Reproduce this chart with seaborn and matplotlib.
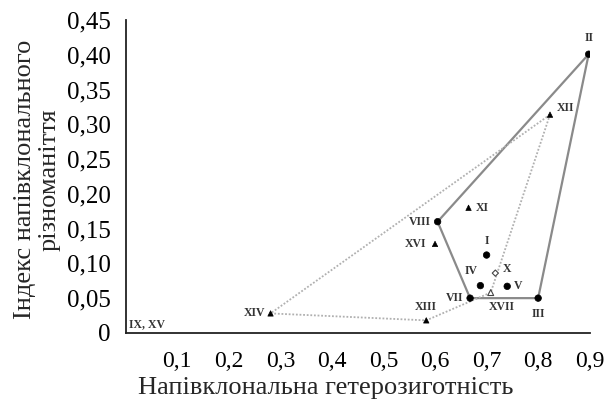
import matplotlib
matplotlib.use("Agg")
import matplotlib.pyplot as plt
import seaborn as sns
import pandas as pd

labels = ["I", "II", "III", "IV", "V", "VII", "VIII", "X",
          "XI", "XII", "XIII", "XIV", "XVI", "XVII"]
het = [0.700, 0.898, 0.800, 0.688, 0.740, 0.668, 0.605, 0.717,
       0.665, 0.823, 0.583, 0.281, 0.600, 0.708]
div = [0.112, 0.401, 0.050, 0.068, 0.067, 0.050, 0.160, 0.086,
       0.180, 0.314, 0.018, 0.028, 0.128, 0.058]
group = ["c", "c", "c", "c", "c", "c", "c", "d",
         "t", "t", "t", "t", "t", "ot"]
hull_solid = ["II", "III", "VII", "VIII", "II"]
hull_dotted = ["XII", "XIV", "XIII", "XVII", "XII"]
origin_label = "IX, XV"

xticks = [0.1, 0.2, 0.3, 0.4, 0.5, 0.6, 0.7, 0.8, 0.9]
xticklabels = ["0,1", "0,2", "0,3", "0,4", "0,5", "0,6", "0,7", "0,8", "0,9"]
yticks = [0, 0.05, 0.10, 0.15, 0.20, 0.25, 0.30, 0.35, 0.40, 0.45]
yticklabels = ["0", "0,05", "0,10", "0,15", "0,20", "0,25", "0,30", "0,35", "0,40", "0,45"]

df = pd.DataFrame({"label": labels, "x": het, "y": div, "g": group})

sns.set_style("white")
plt.rcParams["font.family"] = ["Liberation Serif", "DejaVu Serif"]

fig = plt.figure(figsize=(6.13, 4.03), dpi=100)
ax = fig.add_axes([0.205, 0.174, 0.757, 0.776])

pos = {r.label: (r.x, r.y) for r in df.itertuples()}
sx = [pos[k][0] for k in hull_solid]
sy = [pos[k][1] for k in hull_solid]
ax.plot(sx, sy, color="#8a8a8a", lw=1.6, zorder=1)
dx = [pos[k][0] for k in hull_dotted]
dy = [pos[k][1] for k in hull_dotted]
ax.plot(dx, dy, color="#b0b0b0", lw=1.3, ls=(0, (1, 1)), zorder=1)

filled = df[df.g.isin(["c", "t"])]
sns.scatterplot(data=filled, x="x", y="y", style="g",
                markers={"c": "o", "t": "^"}, color="black",
                size="g", sizes={"c": 22, "t": 15},
                edgecolor="black", linewidth=0.5, legend=False, ax=ax, zorder=3)
opened = df[df.g.isin(["d", "ot"])]
sns.scatterplot(data=opened, x="x", y="y", style="g",
                markers={"d": "D", "ot": "^"}, size="g",
                sizes={"d": 10, "ot": 18},
                facecolor="white", edgecolor="#444444", linewidth=0.8,
                legend=False, ax=ax, zorder=3)

offsets = {
    "I": (0, 6, "center", "bottom"),
    "II": (0, 7, "center", "bottom"),
    "III": (0, -7, "center", "top"),
    "IV": (-2, 6, "right", "bottom"),
    "V": (5, 0, "left", "center"),
    "VII": (-5, 0, "right", "center"),
    "VIII": (-5, 0, "right", "center"),
    "X": (5, 3, "left", "center"),
    "XI": (5, 0, "left", "center"),
    "XII": (5, 5, "left", "center"),
    "XIII": (0, 5, "center", "bottom"),
    "XIV": (-4, 0, "right", "center"),
    "XVI": (-6, 0, "right", "center"),
    "XVII": (8, -6, "center", "top"),
}
for r in df.itertuples():
    ox, oy, ha, va = offsets[r.label]
    ax.annotate(r.label, (r.x, r.y), xytext=(ox, oy), textcoords="offset points",
                ha=ha, va=va, fontsize=8.5, fontweight="bold", color="#333333")
ax.text(0.007, 0.013, origin_label, fontsize=8.5, fontweight="bold",
        color="#333333", ha="left", va="center")

ax.set_xlim(0, 0.9)
ax.set_ylim(0, 0.45)
ax.set_xticks(xticks)
ax.set_xticklabels(xticklabels)
ax.set_yticks(yticks)
ax.set_yticklabels(yticklabels)
ax.tick_params(axis="both", direction="in", length=6, width=1.2,
               colors="black")
ax.tick_params(axis="y", labelsize=18, pad=11)
ax.tick_params(axis="x", labelsize=17, pad=13)
for s in ["top", "right"]:
    ax.spines[s].set_visible(False)
for s in ["left", "bottom"]:
    ax.spines[s].set_color("#222222")
    ax.spines[s].set_linewidth(1.3)
ax.set_xlabel("Напівклональна гетерозиготність", fontsize=19)
ax.xaxis.set_label_coords(0.43, -0.14)
ax.set_ylabel("Індекс напівклонального\nрізноманіття", fontsize=19,
              linespacing=1.15)
ax.yaxis.set_label_coords(-0.14, 0.49)

fig.savefig("out.png", dpi=100, facecolor="white")
